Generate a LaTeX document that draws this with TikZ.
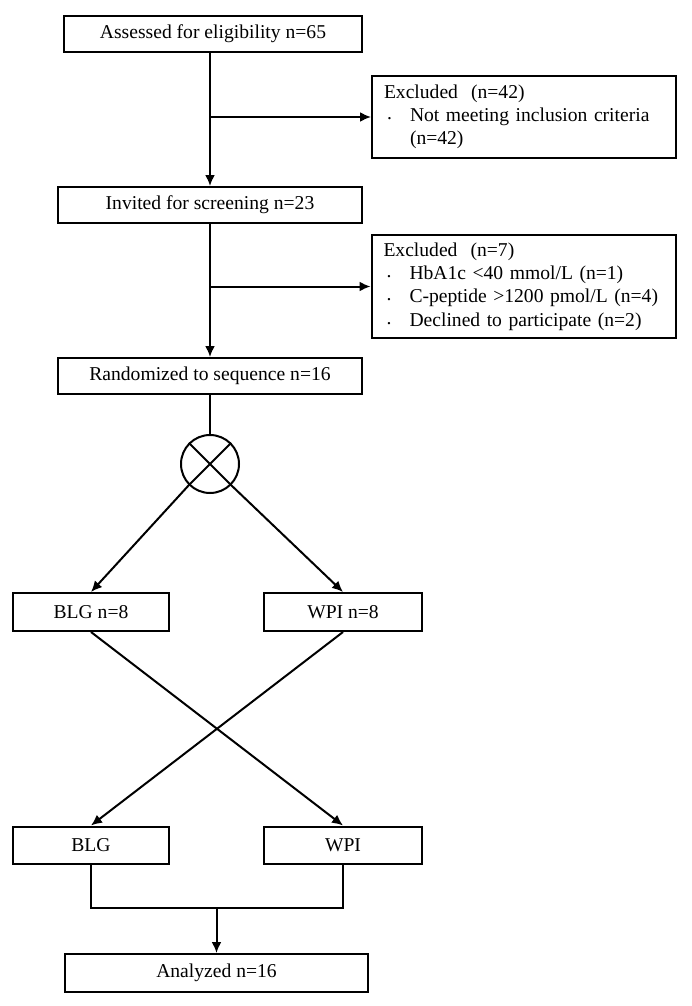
\documentclass[tikz,border=0pt]{standalone}
\usepackage{fontspec}
\setmainfont{Liberation Serif}
\usetikzlibrary{arrows.meta}
\tikzset{
  box/.style={draw, minimum height=18pt, inner sep=0pt},
  exbox/.style={draw, align=left, text width=140pt, inner xsep=6pt, inner ysep=0pt},
}
\newcommand{\bitem}[1]{\makebox[13pt][l]{\hspace{1.5pt}\raisebox{1pt}{.}}\mbox{#1}}
\begin{document}
\begin{tikzpicture}[x=0.5pt,y=-0.5pt,>={Latex[length=5.5pt,width=5pt]},line width=1pt,font=\fontsize{9.8}{11.6}\selectfont]
      \useasboundingbox (0,0) rectangle (691,1006);
      \node[box, minimum width=149pt] (assess) at (213,34) {Assessed for eligibility n=65};
      \node[exbox, minimum height=41pt] (excl1) at (524,117) {Excluded~~(n=42)\\\bitem{Not meeting inclusion criteria}\\\hspace*{13pt}(n=42)};
      \node[box, minimum width=152pt] (invited) at (210,205) {Invited for screening n=23};
      \node[exbox, minimum height=51.5pt] (excl2) at (523.5,286.5) {Excluded~~(n=7)\\\bitem{HbA1c \textless40 mmol/L (n=1)}\\\bitem{C-peptide \textgreater1200 pmol/L (n=4)}\\\bitem{Declined to participate (n=2)}};
      \node[box, minimum width=152pt] (rand) at (210,376) {Randomized to sequence n=16};
      \node[draw, circle, minimum size=29pt, inner sep=0pt] (rnd) at (210,464) {};
      \node[box, minimum width=78pt, minimum height=19pt] (blg1) at (91,612) {BLG n=8};
      \node[box, minimum width=79pt, minimum height=19pt] (wpi1) at (343,612) {WPI n=8};
      \node[box, minimum width=78pt, minimum height=18.5pt] (blg2) at (91,845) {BLG};
      \node[box, minimum width=79pt, minimum height=18.5pt] (wpi2) at (343,845) {WPI};
      \node[box, minimum width=151.5pt, minimum height=19pt] (anl) at (216.5,973) {Analyzed n=16};
      % screening
      \draw[->] (assess.south -| invited.north) -- (invited.north);
      \draw[->] (invited.north |- excl1.west) -- (excl1.west);
      \draw[->] (invited.south) -- (rand.north);
      \draw[->] (invited.south |- excl2.west) -- (excl2.west);
      % randomization
      \draw (rand.south) -- (rnd.north);
      \draw (rnd.north west) -- (rnd.south east) (rnd.north east) -- (rnd.south west);
      \draw[->] (rnd.south west) -- (blg1.north);
      \draw[->] (rnd.south east) -- (wpi1.north);
      % crossover
      \draw[->] (blg1.south) -- (wpi2.north);
      \draw[->] (wpi1.south) -- (blg2.north);
      \path (anl.north) ++(0,-45) coordinate (join);
      \draw (blg2.south) |- (join) -| (wpi2.south);
      \draw[->] (join) -- (anl.north);
\end{tikzpicture}
\end{document}
